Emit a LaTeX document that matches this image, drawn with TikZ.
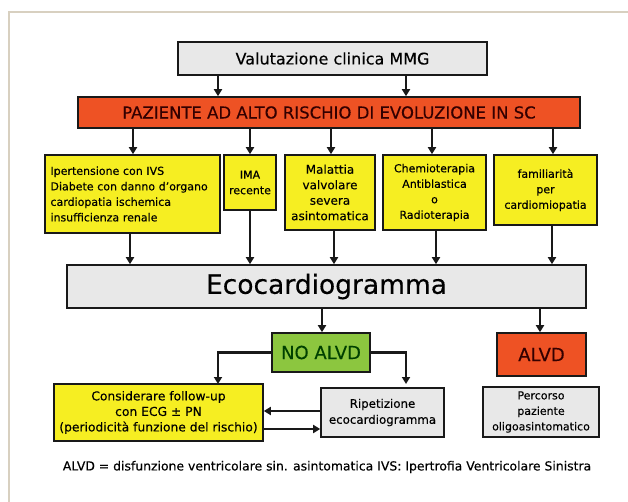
\documentclass[tikz,border=0pt]{standalone}
\usepackage{fontspec}
\setmainfont{DejaVu Sans}[FakeBold=0.25]
\usetikzlibrary{arrows.meta}
\definecolor{ybox}{RGB}{246,238,34}
\definecolor{rbox}{RGB}{238,82,36}
\definecolor{gbox}{RGB}{140,198,63}
\definecolor{gybox}{RGB}{232,232,232}
\definecolor{framecol}{RGB}{216,208,192}
\tikzset{
  box/.style={draw=black!90, line width=1.6pt, inner sep=2pt, align=center},
  arr/.style={line width=2.2pt, draw=black!90, -{Triangle[length=7pt,width=8pt]}},
  fsA/.style={font=\fontsize{11}{15.5}\selectfont},
  fsB/.style={font=\fontsize{12}{15.5}\selectfont}
}
\begin{document}
\begin{tikzpicture}[x=1pt,y=-1pt]
\useasboundingbox (0,0) rectangle (628,502);
\fill[white] (0,0) rectangle (628,502);
\draw[framecol, line width=1.2pt] (628,12) -- (9,12) -- (9,502);

\node[box, fill=gybox, minimum width=309pt, minimum height=33pt, font=\fontsize{16}{18}\selectfont] (val) at (332.5,58.5) {Valutazione clinica MMG};
\node[box, fill=rbox, minimum width=502pt, minimum height=31pt, font=\fontsize{16.5}{18}\selectfont, text=black!80!red] (red) at (329,112.5) {PAZIENTE AD ALTO RISCHIO DI EVOLUZIONE IN SC};

\node[box, fill=ybox, minimum width=175pt, minimum height=78pt, text width=164pt, align=left, fsA] (y1) at (132.5,194) {Ipertensione con IVS\\Diabete con danno d'organo\\cardiopatia ischemica\\insufficienza renale};
\node[box, fill=ybox, minimum width=52pt, minimum height=55pt, inner sep=1pt, fsA] (y2) at (250,182.5) {IMA\\recente};
\node[box, fill=ybox, minimum width=90pt, minimum height=75pt, inner sep=1pt, fsB] (y3) at (330,192.5) {Malattia\\valvolare\\severa\\asintomatica};
\node[box, fill=ybox, minimum width=103pt, minimum height=75pt, fsA] (y4) at (434.5,192.5) {Chemioterapia\\Antiblastica\\o\\Radioterapia};
\node[box, fill=ybox, minimum width=103pt, minimum height=70pt, fsA] (y5) at (545.5,190) {familiarità\\per\\cardiomiopatia};

\node[box, fill=gybox, minimum width=519pt, minimum height=43pt, font=\fontsize{26.5}{28}\selectfont] (eco) at (326.5,286.5) {Ecocardiogramma};

\node[box, fill=gbox, minimum width=98pt, minimum height=39pt, font=\fontsize{18}{20}\selectfont, text=black!75!green] (no) at (321,352.5) {NO ALVD};
\node[box, fill=rbox, minimum width=89pt, minimum height=43pt, font=\fontsize{18}{20}\selectfont, text=black!80!red] (alvd) at (541.5,354.5) {ALVD};

\node[box, fill=ybox, minimum width=209pt, minimum height=57pt, inner sep=1pt, font=\fontsize{12.3}{15.5}\selectfont] (cons) at (158.5,412.5) {Considerare follow-up\\con ECG ± PN\\(periodicità funzione del rischio)};
\node[box, fill=gybox, minimum width=123pt, minimum height=49pt, inner sep=1pt, font=\fontsize{11.8}{16}\selectfont] (rip) at (382.5,412.5) {Ripetizione\\ecocardiogramma};
\node[box, fill=gybox, minimum width=116pt, minimum height=50pt, fsA] (perc) at (541,412) {Percorso\\paziente\\oligoasintomatico};

\node[font=\fontsize{12.4}{14}\selectfont] (cap) at (327,467) {ALVD = disfunzione ventricolare sin. asintomatica IVS: Ipertrofia Ventricolare Sinistra};

% arrows
\draw[arr] (218,0 |- val.south) -- (218,0 |- red.north);
\draw[arr] (406,0 |- val.south) -- (406,0 |- red.north);

\draw[arr] (133,0 |- red.south) -- (133,0 |- y1.north);
\draw[arr] (250,0 |- red.south) -- (250,0 |- y2.north);
\draw[arr] (331,0 |- red.south) -- (331,0 |- y3.north);
\draw[arr] (432,0 |- red.south) -- (432,0 |- y4.north);
\draw[arr] (553,0 |- red.south) -- (553,0 |- y5.north);

\draw[arr] (130,0 |- y1.south) -- (130,0 |- eco.north);
\draw[arr] (250,0 |- y2.south) -- (250,0 |- eco.north);
\draw[arr] (334,0 |- y3.south) -- (334,0 |- eco.north);
\draw[arr] (436,0 |- y4.south) -- (436,0 |- eco.north);
\draw[arr] (552,0 |- y5.south) -- (552,0 |- eco.north);

\draw[arr] (322,0 |- eco.south) -- (322,0 |- no.north);
\draw[arr] (540,0 |- eco.south) -- (540,0 |- alvd.north);

\coordinate (lend) at (218,384);
\coordinate (rend) at (406,384);
\draw[arr] (no.west) -- (no.west -| lend) -- (lend);
\draw[arr] (no.east) -- (no.east -| rend) -- (rend);

\draw[arr] (rip.west |- 0,411) -- (cons.east |- 0,411);
\draw[arr] (cons.east |- 0,429) -- (rip.west |- 0,429);
\end{tikzpicture}
\end{document}
